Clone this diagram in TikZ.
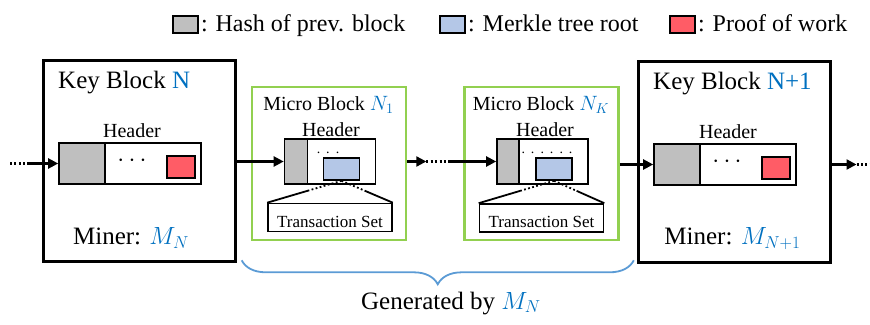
\documentclass[tikz,border=0pt]{standalone}
\usepackage{fontspec}
\setmainfont{Liberation Serif}
\usetikzlibrary{arrows.meta,calc,decorations.pathreplacing,positioning}
\definecolor{mygreen}{RGB}{146,208,80}
\definecolor{myblue}{RGB}{0,112,192}
\definecolor{bracecol}{RGB}{91,155,213}
\definecolor{hashgray}{RGB}{191,191,191}
\definecolor{rootblue}{RGB}{180,199,231}
\definecolor{powred}{RGB}{255,92,102}
\newcommand{\fsbig}{\fontsize{25}{30}\selectfont}
\newcommand{\fsleg}{\fontsize{24}{29}\selectfont}
\newcommand{\fsmid}{\fontsize{20}{24}\selectfont}
\newcommand{\fssmall}{\fontsize{17}{20}\selectfont}
\newcommand{\fsdots}{\fontsize{14}{16}\selectfont}
\newcommand{\dotgap}{\hspace{6pt}}
\tikzset{
    txt/.style={inner sep=0pt},
    keyblock/.style={draw, line width=3pt, minimum width=192pt, minimum height=201pt, inner sep=0pt},
    microblock/.style={draw=mygreen, line width=2.6pt, minimum width=154pt, minimum height=153pt, inner sep=0pt},
    hdrbox/.style={draw, line width=1.6pt, fill=white, inner sep=0pt},
    hashbox/.style={draw, line width=1.6pt, fill=hashgray, inner sep=0pt, anchor=west},
    powbox/.style={draw, line width=1.6pt, fill=powred, minimum width=28pt, minimum height=22pt, inner sep=0pt},
    rootbox/.style={draw, line width=1.6pt, fill=rootblue, minimum width=36pt, minimum height=22pt, inner sep=0pt},
    txbox/.style={draw, line width=1.6pt, minimum width=124pt, minimum height=28pt, inner sep=0pt, text height=20pt, text depth=0pt},
    legbox/.style={draw, line width=1.6pt, minimum width=25pt, minimum height=17pt, inner sep=0pt},
    arr/.style={line width=2.2pt, -{Triangle[length=10pt,width=10pt]}},
    dotline/.style={line width=2.2pt, dash pattern=on 2pt off 2.4pt},
    treeline/.style={line width=1.8pt},
    treedots/.style={line width=1.8pt, dash pattern=on 1.8pt off 2.4pt}
}

\begin{document}
\begin{tikzpicture}[x=1pt, y=1pt]
    \useasboundingbox (0,0) rectangle (870,324);

    % legend
    \node[legbox, fill=hashgray] (leg1) at (185.5,299.5) {};
    \node[txt, anchor=base west, xshift=2pt, yshift=2pt] (leg1txt) at (leg1.south east) {\fsleg: Hash of prev. block};
    \node[legbox, fill=rootblue] (leg2) at (452.5,299.5) {};
    \node[txt, anchor=base west, xshift=2pt, yshift=2pt] (leg2txt) at (leg2.south east) {\fsleg: Merkle tree root};
    \node[legbox, fill=powred] (leg3) at (682.5,299.5) {};
    \node[txt, anchor=base west, xshift=2pt, yshift=2pt] (leg3txt) at (leg3.south east) {\fsleg: Proof of work};

    % key block N
    \begin{scope}[shift={(139,162.5)}]
        \node[keyblock] (kb1) at (0,0) {};
        \node[txt, anchor=base west] (kb1title) at (-81,72.5) {\fsbig Key Block \textcolor{myblue}{N}};
        \node[hdrbox, minimum width=142pt, minimum height=41pt] (hdr1) at (-9,-2) {};
        \node[hashbox, minimum width=46pt, minimum height=41pt] (hash1) at (hdr1.west) {};
        \node[powbox, anchor=south east, xshift=-6pt, yshift=6pt] (pow1) at (hdr1.south east) {};
        \node[txt] (dots1) at (-7,0.5) {\fsbig $\cdots$};
        \node[txt, anchor=base] (hdr1lbl) at (-7,23.5) {\fsmid Header};
        \node[txt, anchor=base] (miner1) at (-8,-83.5) {\fsbig Miner: \textcolor{myblue}{$M_N$}};
    \end{scope}

    % micro block N_1
    \begin{scope}[shift={(329,160.5)}]
        \node[microblock] (mb1) at (0,0) {};
        \node[txt, anchor=base] (mb1title) at (-0.5,53) {\fsmid Micro Block \textcolor{myblue}{$N_1$}};
        \node[hdrbox, minimum width=91pt, minimum height=45pt] (mhdr1) at (1,2) {};
        \node[hashbox, minimum width=23pt, minimum height=45pt] (mhash1) at (mhdr1.west) {};
        \node[rootbox, anchor=south east, xshift=-16pt, yshift=4pt] (mroot1) at (mhdr1.south east) {};
        \node[txt, anchor=base] (mdots1) at (-1,9.5) {\fsdots .\dotgap.\dotgap.};
        \node[txt, anchor=base] (mhdr1lbl) at (2,27) {\fsmid Header};
        \node[txbox] (tx1) at (1,-54) {\fssmall Transaction Set};
    \end{scope}
    \draw[treedots] (mroot1.south) -- ($(mroot1.south)!0.45!(tx1.north west)$) coordinate (tl1);
    \draw[treeline] (tl1) -- (tx1.north west);
    \draw[treedots] (mroot1.south) -- ($(mroot1.south)!0.45!(tx1.north east)$) coordinate (tr1);
    \draw[treeline] (tr1) -- (tx1.north east);

    % micro block N_K
    \begin{scope}[shift={(541.5,160.5)}]
        \node[microblock] (mbK) at (0,0) {};
        \node[txt, anchor=base] (mbKtitle) at (-0.5,53) {\fsmid Micro Block \textcolor{myblue}{$N_K$}};
        \node[hdrbox, minimum width=91pt, minimum height=45pt] (mhdrK) at (1,2) {};
        \node[hashbox, minimum width=22pt, minimum height=45pt] (mhashK) at (mhdrK.west) {};
        \node[rootbox, anchor=south east, xshift=-16pt, yshift=4pt] (mrootK) at (mhdrK.south east) {};
        \node[txt, anchor=base] (mdotsK) at (5.5,9.5) {\fsdots .\dotgap.\dotgap.\dotgap.\dotgap.\dotgap.};
        \node[txt, anchor=base] (mhdrKlbl) at (3.5,27) {\fsmid Header};
        \node[txbox] (txK) at (0,-54.5) {\fssmall Transaction Set};
    \end{scope}
    \draw[treedots] (mrootK.south) -- ($(mrootK.south)!0.45!(txK.north west)$) coordinate (tlK);
    \draw[treeline] (tlK) -- (txK.north west);
    \draw[treedots] (mrootK.south) -- ($(mrootK.south)!0.45!(txK.north east)$) coordinate (trK);
    \draw[treeline] (trK) -- (txK.north east);

    % key block N+1
    \begin{scope}[shift={(734,161.5)}]
        \node[keyblock] (kb2) at (0,0) {};
        \node[txt, anchor=base west] (kb2title) at (-81,72.5) {\fsbig Key Block \textcolor{myblue}{N+1}};
        \node[hdrbox, minimum width=142pt, minimum height=41pt] (hdr2) at (-9,-2) {};
        \node[hashbox, minimum width=46pt, minimum height=41pt] (hash2) at (hdr2.west) {};
        \node[powbox, anchor=south east, xshift=-6pt, yshift=6pt] (pow2) at (hdr2.south east) {};
        \node[txt] (dots2) at (-7,0.5) {\fsbig $\cdots$};
        \node[txt, anchor=base] (hdr2lbl) at (-6,23.5) {\fsmid Header};
        \node[txt, anchor=base] (miner2) at (-1.5,-82.5) {\fsbig Miner: \textcolor{myblue}{$M_{N+1}$}};
    \end{scope}

    % chain
    \coordinate (in0) at (10,160.5);
    \draw[dotline] (in0) -- ++(17,0) coordinate (in1);
    \draw[arr] (in1) -- (hdr1.west);
    \draw[arr] (kb1.east |- mhdr1.west) -- (mhdr1.west);
    \draw[arr] (mb1.east |- mhdr1.east) -- ++(19,0) coordinate (gap1);
    \draw[dotline] (gap1) -- ++(23,0) coordinate (gap2);
    \draw[arr] (gap2) -- (mhdrK.west);
    \draw[arr] (mbK.east |- hdr2.west) -- (hdr2.west);
    \draw[arr] (kb2.east |- hdr2.east) -- ++(25,0) coordinate (out1);
    \draw[dotline] (out1) -- ++(15,0);

    % brace
    \coordinate (brL) at ($(mb1.south west)+(-9,-19)$);
    \coordinate (brR) at ($(mbK.south east)+(14,-19)$);
    \draw[bracecol, line width=1.8pt, decorate, decoration={brace, amplitude=24pt, mirror}] (brL) -- (brR);
    \node[txt, anchor=base] (gen) at (451,15) {\fsbig Generated by \textcolor{myblue}{$M_N$}};
\end{tikzpicture}
\end{document}
